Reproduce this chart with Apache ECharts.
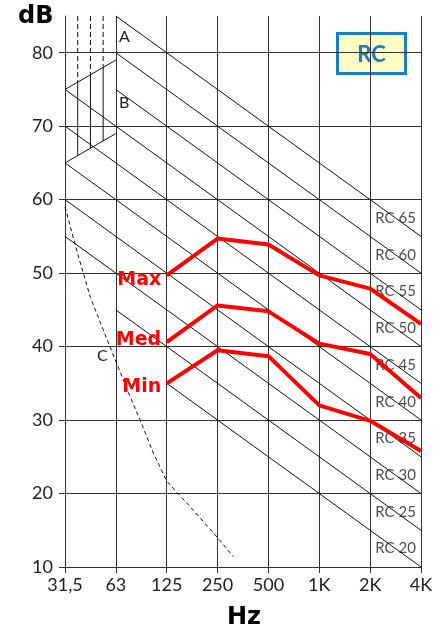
<!DOCTYPE html>
<html lang="en">
<head>
<meta charset="UTF-8">
<title>RC curves</title>
<script src="https://cdn.jsdelivr.net/npm/echarts@6/dist/echarts.min.js"></script>
<style>html,body{margin:0;padding:0;background:#fff}</style>
</head>
<body>
<div id="main" style="width:444px;height:629px"></div>
<script>
// x = octave band index, 0 = 31,5 Hz ... 7 = 4K
var freqLabels = ['31,5', '63', '125', '250', '500', '1K', '2K', '4K'];
var yTickLabels = [10, 20, 30, 40, 50, 60, 70, 80];

// measured spectra
var bandX = [2, 3, 4, 5, 6, 7];
var maxDb = [49.7, 54.7, 53.9, 49.7, 47.9, 43.1];
var medDb = [40.6, 45.6, 44.8, 40.4, 39.0, 33.0];
var minDb = [35.0, 39.5, 38.7, 32.0, 29.9, 25.8];

// RC reference lines: start point, value at 4K
var rcLevels  = [20, 25, 30, 35, 40, 45, 50, 55, 60, 65];
var rcStartX  = [2, 1, 0, 0, 0, 0, 0, 1, 1, 1];
var rcStartDb = [35, 45, 55, 60, 65, 70, 75, 75, 80, 85];
var rcEndDb   = [10, 15, 20, 25, 30, 35, 40, 45, 50, 55];

// curve C (dashed)
var cX  = [0, 0.25, 0.5, 0.75, 1, 1.25, 1.5, 1.75, 2, 2.5, 3, 3.31];
var cDb = [59, 52.6, 46.7, 42.3, 38, 33.7, 29.6, 25.3, 21.7, 17.9, 14, 11.4];

// zone A / B
var abX     = [0.25, 0.5, 0.75];
var abUpper = [76, 77, 78];
var abLower = [66, 67, 68];
var abTopLine    = [[0, 75], [1, 79]];
var abBottomLine = [[0, 65], [1, 69]];

var myChart = echarts.init(document.getElementById('main'));
var font = 'Lato, "DejaVu Sans", sans-serif';
var heavy = '"DejaVu Sans", "Liberation Sans", sans-serif';
var thin = { color: '#111', width: 1 };

var series = [];

// RC lines + their labels
var rcLabelData = [];
rcLevels.forEach(function (n, i) {
    series.push({
        type: 'line', silent: true, symbol: 'none', z: 2,
        lineStyle: thin,
        data: [[rcStartX[i], rcStartDb[i]], [7, rcEndDb[i]]]
    });
    // label sits on the line in the middle of the last band
    var t = (6.5 - rcStartX[i]) / (7 - rcStartX[i]);
    rcLabelData.push({
        value: [6.5, rcStartDb[i] + (rcEndDb[i] - rcStartDb[i]) * t],
        name: 'RC ' + n
    });
});
series.push({
    type: 'scatter', silent: true, symbolSize: 0, z: 1,
    data: rcLabelData,
    label: { show: true, position: 'inside', formatter: '{b}', color: '#222', fontSize: 15, fontFamily: font }
});

// zone A/B
abX.forEach(function (x, i) {
    series.push({
        type: 'line', silent: true, symbol: 'none', z: 2,
        lineStyle: { color: '#111', width: 1, type: [5, 3] },
        data: [[x, 85], [x, abUpper[i]]]
    });
    series.push({
        type: 'line', silent: true, symbol: 'none', z: 2,
        lineStyle: thin,
        data: [[x, abUpper[i]], [x, abLower[i]]]
    });
});
series.push({ type: 'line', silent: true, symbol: 'none', z: 2, lineStyle: thin, data: abTopLine });
series.push({ type: 'line', silent: true, symbol: 'none', z: 2, lineStyle: thin, data: abBottomLine });

// curve C
series.push({
    type: 'line', silent: true, symbol: 'none', z: 2,
    lineStyle: { color: '#111', width: 1, type: [4, 3] },
    data: cX.map(function (x, i) { return [x, cDb[i]]; })
});

// Max / Med / Min
function spectrum(name, vals, dy) {
    return {
        type: 'line', name: name, silent: true, z: 5,
        symbol: 'circle', symbolSize: 1,
        itemStyle: { color: '#ff0000' },
        lineStyle: { color: '#ff0000', width: 4 },
        label: { show: false },
        data: vals.map(function (v, i) {
            var d = { value: [bandX[i], v] };
            if (i === 0) {
                d.label = {
                    show: true, position: 'left', distance: 5, offset: [0, dy],
                    formatter: name, color: '#ff0000', fontSize: 19, fontWeight: 'bold',
                    fontFamily: heavy
                };
            }
            return d;
        })
    };
}
series.push(spectrum('Max', maxDb, 5));
series.push(spectrum('Med', medDb, -2));
series.push(spectrum('Min', minDb, 4));

var option = {
    animation: false,
    grid: { left: 65, right: 23, top: 16, bottom: 62 },
    xAxis: {
        type: 'value', min: 0, max: 7, interval: 1,
        axisLine: { show: true, lineStyle: { color: '#333' } },
        axisTick: { show: true, length: 6, lineStyle: { color: '#333' } },
        splitLine: { show: true, lineStyle: { color: '#333', width: 1 } },
        axisLabel: {
            margin: 9, fontSize: 18, color: '#222', fontFamily: font,
            formatter: function (v) { return freqLabels[v]; }
        }
    },
    yAxis: {
        type: 'value', min: 10, max: 85, interval: 5,
        axisLine: { show: true, lineStyle: { color: '#333' } },
        axisTick: { show: true, length: 6, customValues: yTickLabels, lineStyle: { color: '#333' } },
        splitLine: { show: true, lineStyle: { color: '#333', width: 1 } },
        axisLabel: {
            margin: 12, fontSize: 18, color: '#222', fontFamily: font,
            customValues: yTickLabels,
            formatter: function (v) { return v % 10 === 0 && v <= 80 ? String(v) : ''; }
        }
    },
    graphic: [
        { type: 'text', left: 18, top: 5, style: { text: 'dB', fontSize: 24, fontWeight: 'bold', fill: '#000', fontFamily: heavy } },
        { type: 'text', left: 227, top: 606, style: { text: 'Hz', fontSize: 24, fontWeight: 'bold', fill: '#000', fontFamily: heavy } },
        { type: 'text', left: 119, top: 29, style: { text: 'A', fontSize: 16, fill: '#222', fontFamily: font } },
        { type: 'text', left: 119, top: 95, style: { text: 'B', fontSize: 16, fill: '#222', fontFamily: font } },
        { type: 'text', left: 97, top: 348, style: { text: 'C', fontSize: 16, fill: '#222', fontFamily: font } },
        {
            type: 'group', left: 336, top: 32, z: 10,
            children: [
                { type: 'rect', shape: { x: 0, y: 0, width: 68, height: 40 }, style: { fill: '#ffffc4', stroke: '#1e7cc3', lineWidth: 3 } },
                { type: 'text', style: { x: 34, y: 21, text: 'RC', align: 'center', verticalAlign: 'middle', fontSize: 22, fontWeight: 'bold', fill: '#1e7cc3', fontFamily: font } }
            ]
        }
    ],
    series: series
};

myChart.setOption(option);
</script>
</body>
</html>
